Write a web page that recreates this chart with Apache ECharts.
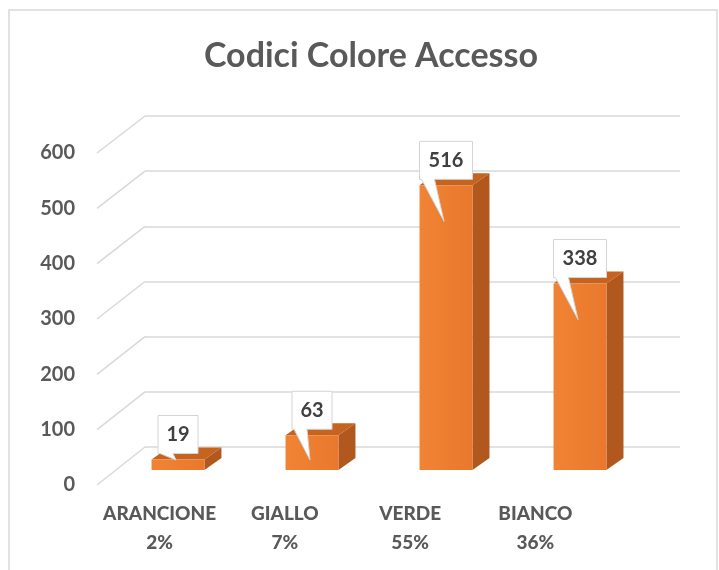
<!DOCTYPE html>
<html><head><meta charset="utf-8">
<script src="https://cdn.jsdelivr.net/npm/echarts@6/dist/echarts.min.js"></script>
<style>html,body{margin:0;padding:0;background:#fff}#c{width:719px;height:570px}</style>
</head><body><div id="c"></div>
<script>
const categories = ['ARANCIONE', 'GIALLO', 'VERDE', 'BIANCO'];
const percents = ['2%', '7%', '55%', '36%'];
const values = [19, 63, 516, 338];
const yTicks = [0, 100, 200, 300, 400, 500, 600];

const FONT = 'Lato, "Open Sans", sans-serif';
const TXT = '#595959';
const GRID = '#d9d9d9';
const FRONT = {left: 97, top: 153, width: 501, height: 332};
const BACK = {left: 145, top: 116, width: 535, height: 331};
const BARS = {left: 111, top: 139, width: 536, height: 331};

const chart = echarts.init(document.getElementById('c'), null, {renderer: 'canvas'});

function renderBar(params, api) {
  const i = api.value(0), v = api.value(1);
  const base = api.coord([i, 0]);
  const top = api.coord([i, v]);
  const w = api.size([1, 0])[0] * 0.395;
  const x0 = base[0] - w / 2, x1 = base[0] + w / 2;
  const dx = 17, dy = -12;
  const t = top[1], b = base[1];
  const label = String(v);
  const bw = label.length >= 3 ? 53 : 40;
  const bh = 38;
  const bx0 = base[0] - bw / 2, bx1 = base[0] + bw / 2;
  const by1 = t - 6, by0 = by1 - bh;
  const tip = [base[0] - 2, Math.min(by1 + 42, b - 10)];
  return {
    type: 'group',
    children: [
      {type: 'polygon', shape: {points: [[x1, t], [x1 + dx, t + dy], [x1 + dx, b + dy], [x1, b]]},
       style: {fill: '#b0581d'}},
      {type: 'polygon', shape: {points: [[x0, t], [x0 + dx, t + dy], [x1 + dx, t + dy], [x1, t]]},
       style: {fill: '#c6631f'}},
      {type: 'rect', shape: {x: x0, y: t, width: w, height: b - t},
       style: {fill: {type: 'linear', x: 0, y: 0, x2: 1, y2: 0,
         colorStops: [{offset: 0, color: '#f08434'}, {offset: 1, color: '#e9782c'}]}}},
      {type: 'polygon', shape: {points: [[bx0, by0], [bx1, by0], [bx1, by1], [bx0 + 15, by1], tip, [bx0 + 2, by1], [bx0, by1]]},
       style: {fill: '#ffffff', stroke: '#d4d4d4', lineWidth: 1}},
      {type: 'text', style: {text: label, x: base[0], y: (by0 + by1) / 2, align: 'center', verticalAlign: 'middle',
        font: 'bold 20px ' + FONT, fill: '#404040'}}
    ]
  };
}

const option = {
  animation: false,
  backgroundColor: '#ffffff',
  title: {text: 'Codici Colore Accesso', left: 366, top: 34, textAlign: 'center',
    textStyle: {fontFamily: FONT, fontWeight: 'bold', fontSize: 34, color: TXT}},
  grid: [
    Object.assign({containLabel: false}, FRONT),
    Object.assign({containLabel: false}, BACK),
    Object.assign({containLabel: false}, BARS)
  ],
  xAxis: [
    {type: 'category', gridIndex: 0, data: categories,
     axisLine: {show: false}, axisTick: {show: false},
     axisLabel: {interval: 0, hideOverlap: false, margin: 14,
       formatter: (val, idx) => '{c|' + val + '}\n{c|' + percents[idx] + '}',
       rich: {c: {fontFamily: FONT, fontWeight: 900, fontSize: 19, lineHeight: 29, color: TXT}}}},
    {type: 'category', gridIndex: 1, data: categories, show: false},
    {type: 'category', gridIndex: 2, data: categories, show: false}
  ],
  yAxis: [
    {type: 'value', gridIndex: 0, min: 0, max: 600, interval: 100,
     axisLine: {show: false}, axisTick: {show: false}, splitLine: {show: false},
     axisLabel: {margin: 22, fontFamily: FONT, fontWeight: 'bold', fontSize: 20, color: TXT}},
    {type: 'value', gridIndex: 1, min: 0, max: 600, interval: 100,
     axisLine: {show: false}, axisTick: {show: false}, axisLabel: {show: false},
     splitLine: {show: true, lineStyle: {color: GRID, width: 1.5}}},
    {type: 'value', gridIndex: 2, min: 0, max: 600, interval: 100, show: false}
  ],
  series: [{
    type: 'custom', xAxisIndex: 2, yAxisIndex: 2,
    data: values.map((v, i) => [i, v]),
    renderItem: renderBar, z: 5
  }]
};
chart.setOption(option);

const gfx = [{type: 'rect', shape: {x: 9, y: 10, width: 708, height: 600},
  style: {fill: 'none', stroke: '#d9d9d9', lineWidth: 1.5}, z: 0}];
yTicks.forEach(v => {
  const yf = chart.convertToPixel({yAxisIndex: 0}, v);
  const yb = chart.convertToPixel({yAxisIndex: 1}, v);
  gfx.push({type: 'line', shape: {x1: FRONT.left, y1: yf, x2: BACK.left, y2: yb},
    style: {stroke: GRID, lineWidth: 1.5}, z: 1});
});
chart.setOption({graphic: gfx});
</script></body></html>
